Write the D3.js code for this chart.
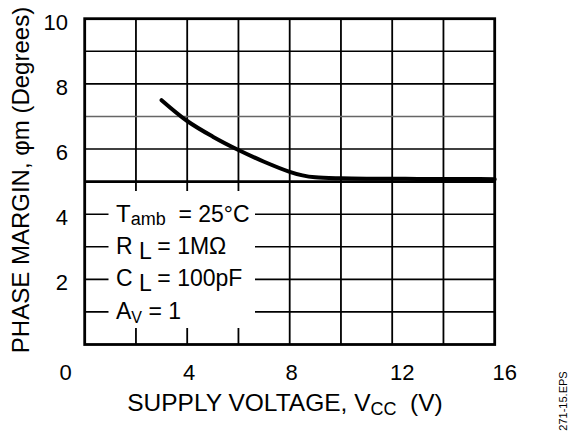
<!DOCTYPE html>
<html>
<head>
<meta charset="utf-8">
<script src="https://d3js.org/d3.v7.min.js"></script>
<style>
  html, body { margin: 0; padding: 0; background: #fff; }
  svg { display: block; }
  text { font-family: "Liberation Sans", Arial, sans-serif; fill: #000; }
</style>
</head>
<body>
<svg id="chart" width="576" height="441"></svg>
<script>
  // curve
  const voltage = [3, 4, 5, 6, 7, 8, 8.5, 9, 10, 11, 12, 13, 14, 15, 16];
  const phaseMargin = [7.50, 6.86, 6.38, 5.97, 5.61, 5.30, 5.19, 5.13, 5.10, 5.09, 5.09, 5.08, 5.08, 5.08, 5.07];

  const xTicks = [0, 4, 8, 12, 16];
  const yTicks = [2, 4, 6, 8, 10];
  const xGrid = [2, 4, 6, 8, 10, 12, 14];
  const yGrid = [1, 2, 3, 4, 5, 6, 7, 8, 9];

  const width = 576, height = 441;
  const svg = d3.select("#chart");

  const x = d3.scaleLinear().domain([0, 16]).range([84.7, 494.7]);
  const y = d3.scaleLinear().domain([0, 10]).range([344.5, 18.7]);

  // grid
  const grid = svg.append("g");
  grid.selectAll(".vg")
    .data(xGrid)
    .enter().append("line")
    .attr("x1", d => x(d)).attr("x2", d => x(d))
    .attr("y1", y(10)).attr("y2", y(0))
    .attr("stroke", "#000")
    .attr("stroke-width", 1.8);

  grid.selectAll(".hg")
    .data(yGrid)
    .enter().append("line")
    .attr("x1", x(0)).attr("x2", x(16))
    .attr("y1", d => y(d)).attr("y2", d => y(d))
    .attr("stroke", d => d === 7 ? "#666" : "#000")
    .attr("stroke-width", d => d === 5 ? 2.6 : 1.6);

  // white patch behind the conditions text
  svg.append("rect")
    .attr("x", 108.5).attr("y", 191)
    .attr("width", 146.5).attr("height", 137)
    .attr("fill", "#fff");

  // frame
  svg.append("rect")
    .attr("x", x(0)).attr("y", y(10))
    .attr("width", x(16) - x(0)).attr("height", y(0) - y(10))
    .attr("fill", "none")
    .attr("stroke", "#000")
    .attr("stroke-width", 2.8);

  // curve
  const line = d3.line()
    .x((d, i) => x(voltage[i]))
    .y(d => y(d))
    .curve(d3.curveCatmullRom.alpha(0.5));

  svg.append("path")
    .datum(phaseMargin)
    .attr("d", line)
    .attr("fill", "none")
    .attr("stroke", "#000")
    .attr("stroke-width", 4)
    .attr("stroke-linecap", "round");

  // tick labels
  const nudge = v => v === 0 ? -19 : (v >= 12 ? 10 : 2);
  svg.selectAll(".xl")
    .data(xTicks)
    .enter().append("text")
    .attr("x", d => x(d) + nudge(d))
    .attr("y", 379.5)
    .attr("text-anchor", "middle")
    .attr("font-size", 22)
    .text(d => d);

  svg.selectAll(".yl")
    .data(yTicks)
    .enter().append("text")
    .attr("x", 68)
    .attr("y", d => y(d) + 11)
    .attr("text-anchor", "end")
    .attr("font-size", 22)
    .text(d => d);

  // conditions
  const cond = svg.append("g").attr("font-size", 23);
  const tx = 116;

  let t = cond.append("text").attr("x", tx).attr("y", y(4) + 8);
  t.append("tspan").attr("font-size", 24).text("T");
  t.append("tspan").attr("font-size", 18).attr("dy", 3).text("amb");
  t.append("tspan").attr("dy", -3).text("\u00a0 = 25°C");

  t = cond.append("text").attr("x", tx).attr("y", y(3) + 7);
  t.append("tspan").text("R");
  t.append("tspan").attr("dy", 5).text(" L");
  t.append("tspan").attr("dy", -5).text(" = 1MΩ");

  t = cond.append("text").attr("x", tx).attr("y", y(2) + 7);
  t.append("tspan").text("C");
  t.append("tspan").attr("dy", 5).text(" L");
  t.append("tspan").attr("dy", -5).text(" = 100pF");

  t = cond.append("text").attr("x", tx).attr("y", y(1) + 7);
  t.append("tspan").text("A");
  t.append("tspan").attr("font-size", 16).attr("dy", 4).text("V");
  t.append("tspan").attr("dy", -4).text(" = 1");

  // axis titles
  const xt = svg.append("text")
    .attr("x", 285)
    .attr("y", 411)
    .attr("text-anchor", "middle")
    .attr("font-size", 24.5);
  xt.append("tspan").text("SUPPLY VOLTAGE, V");
  xt.append("tspan").attr("font-size", 18).attr("dy", 4).text("CC");
  xt.append("tspan").attr("dy", -4).text("\u00a0 (V)");

  svg.append("text")
    .attr("transform", "translate(28.5,180) rotate(-90)")
    .attr("text-anchor", "middle")
    .attr("font-size", 24)
    .text("PHASE MARGIN, φm (Degrees)");

  svg.append("text")
    .attr("transform", "translate(567,401) rotate(-90)")
    .attr("text-anchor", "middle")
    .attr("font-size", 11)
    .text("271-15.EPS");
</script>
</body>
</html>
